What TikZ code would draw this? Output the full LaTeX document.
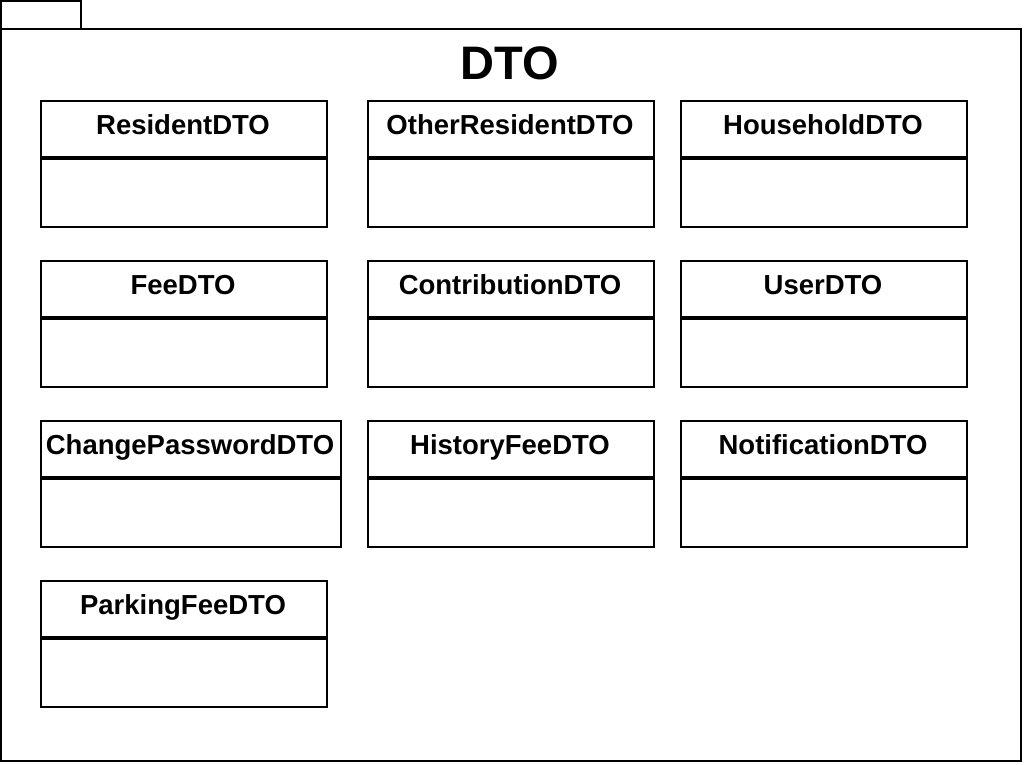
\documentclass[tikz,border=0pt]{standalone}
\usepackage{fontspec}
\setmainfont{Liberation Sans}
\usetikzlibrary{calc,positioning}

\begin{document}
\begin{tikzpicture}[x=1pt,y=-1pt,
  frame/.style={draw,line width=2pt},
  classbox/.style={draw,line width=2pt,anchor=north west,minimum width=286pt,minimum height=126pt,inner sep=0pt,
    path picture={\draw[line width=3.5pt] ([yshift=-57pt]path picture bounding box.north west) -- ([yshift=-57pt]path picture bounding box.north east);}},
  classname/.style={anchor=base,inner sep=0pt,font=\fontsize{27.5}{30}\selectfont\bfseries}]
  \useasboundingbox (0,0) rectangle (1024,764);
  % package frame and tab
  \draw[frame] (1,1) rectangle (81,29);
  \draw[frame] (1,29) rectangle (1021,761);
  \node[anchor=base,inner sep=0pt,font=\fontsize{47}{50}\selectfont\bfseries] (title) at (510,79) {DTO};
  % row 1
  \node[classbox] (resident) at (40,100) {};
  \node[classname] (residentname) at ($(resident.north)+(-1,34)$) {ResidentDTO};
  \node[classbox] (other) at (367,100) {};
  \node[classname] (othername) at ($(other.north)+(-1,34)$) {OtherResidentDTO};
  \node[classbox] (household) at (680,100) {};
  \node[classname] (householdname) at ($(household.north)+(-1,34)$) {HouseholdDTO};
  % row 2
  \node[classbox] (fee) at (40,260) {};
  \node[classname] (feename) at ($(fee.north)+(-1,34)$) {FeeDTO};
  \node[classbox] (contribution) at (367,260) {};
  \node[classname] (contributionname) at ($(contribution.north)+(-1,34)$) {ContributionDTO};
  \node[classbox] (user) at (680,260) {};
  \node[classname] (username) at ($(user.north)+(-1,34)$) {UserDTO};
  % row 3
  \node[classbox,minimum width=300pt] (changepw) at (40,420) {};
  \node[classname] (changepwname) at ($(changepw.north)+(-1,34)$) {ChangePasswordDTO};
  \node[classbox] (history) at (367,420) {};
  \node[classname] (historyname) at ($(history.north)+(-1,34)$) {HistoryFeeDTO};
  \node[classbox] (notification) at (680,420) {};
  \node[classname] (notificationname) at ($(notification.north)+(-1,34)$) {NotificationDTO};
  % row 4
  \node[classbox] (parking) at (40,580) {};
  \node[classname] (parkingname) at ($(parking.north)+(-1,34)$) {ParkingFeeDTO};
\end{tikzpicture}
\end{document}
